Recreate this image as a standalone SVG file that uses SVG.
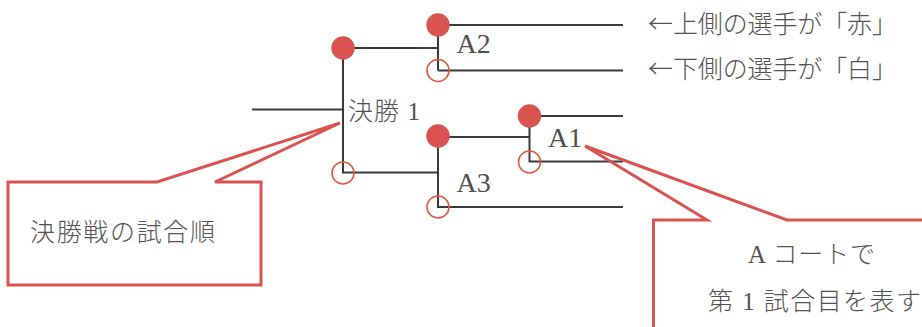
<svg xmlns="http://www.w3.org/2000/svg" width="922" height="327" viewBox="0 0 922 327">
<style>
.ln{stroke:#3a3a3a;stroke-width:2;fill:none}
.red{fill:#d9534f}
.open{fill:none;stroke:#e05a3c;stroke-width:1.6}
.lat{font-family:"Liberation Serif","Noto Sans CJK JP",serif;font-size:28px;fill:#4f4f4f}
.jp{font-family:"Liberation Serif","Noto Sans CJK JP",sans-serif;font-size:25px;font-weight:300;fill:#525252}
.cj{font-family:"Noto Sans CJK JP",sans-serif}
.call{fill:none;stroke:#d9534f;stroke-width:3;stroke-linejoin:miter}
</style>
<rect width="922" height="327" fill="#ffffff"/>
<g id="connectors">
<path class="ln" d="M252,109.5 H343 M343,48 V172.5 H438 M343,48 H438 M438,25 V70.5 M438,25 H623 M438,70.5 H623 M438,136 V207 H623 M438,137 H529.5 M529.5,116 V161.5 H623 M529.5,116 H623"/>
</g>
<g id="final">
<circle class="red" cx="343" cy="48" r="11.7"/>
<circle class="open" cx="343" cy="173" r="11"/>
<text class="jp" x="348" y="120" textLength="72">決勝 1</text>
</g>
<g id="A2">
<circle class="red" cx="438" cy="25" r="11.7"/>
<circle class="open" cx="438" cy="70.5" r="11"/>
<text class="lat" x="456.5" y="53">A2</text>
</g>
<g id="A3">
<circle class="red" cx="438" cy="136" r="11.7"/>
<circle class="open" cx="438" cy="207" r="11"/>
<text class="lat" x="456.5" y="191.5">A3</text>
</g>
<g id="A1">
<circle class="red" cx="529.5" cy="116" r="11.7"/>
<circle class="open" cx="529.5" cy="162" r="11"/>
<text class="lat" x="548" y="146.5">A1</text>
</g>
<g id="legend">
<text class="jp cj" x="648" y="33" textLength="249">←上側の選手が「赤」</text>
<text class="jp cj" x="648" y="77.5" textLength="249">←下側の選手が「白」</text>
</g>
<g id="callout-final">
<path class="call" d="M8,182 H157 L340,123 L215,182 H261 V285 H8 Z"/>
<text class="jp cj" x="30" y="241" textLength="185">決勝戦の試合順</text>
</g>
<g id="callout-a1">
<path class="call" d="M653.5,330 V220 H707 L585,146 L787,220 H925"/>
<text class="jp" x="748" y="263" textLength="127">A コートで</text>
<text class="jp" x="708" y="310" textLength="213">第 1 試合目を表す</text>
</g>
</svg>
